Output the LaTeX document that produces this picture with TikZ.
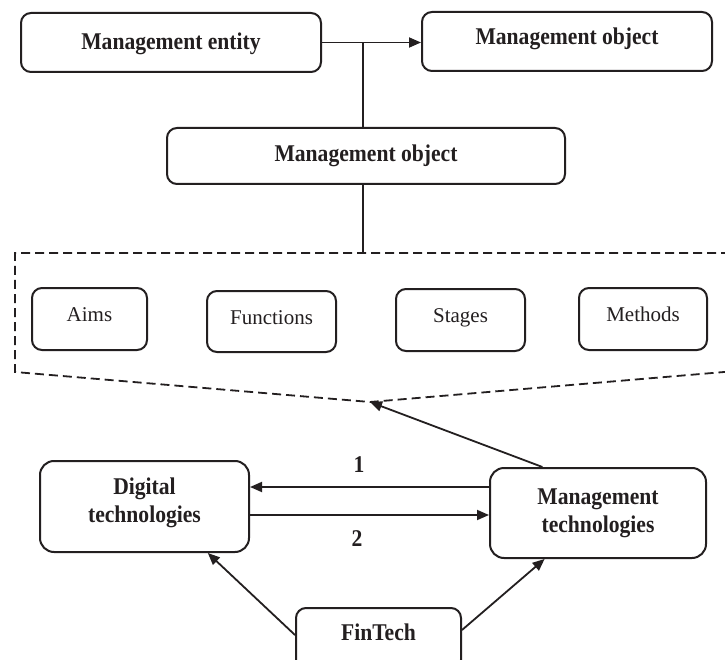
\documentclass[tikz,border=0pt]{standalone}
\usepackage{fontspec}
\setmainfont{Liberation Serif}
\newfontfamily\condserif[FakeStretch=0.9]{Liberation Serif}
\usetikzlibrary{arrows.meta,calc}
\definecolor{ink}{HTML}{231F20}
\tikzset{
  box/.style={draw=ink, line width=2pt, rounded corners=10pt, inner sep=0pt, align=center, text=ink},
  techbox/.style={box, rounded corners=14pt},
  bfont/.style={font=\condserif\bfseries\fontsize{24}{28}\selectfont},
  rfont/.style={font=\fontsize{21}{26}\selectfont},
  inner/.style={box, rfont, text height=15pt, text depth=10pt},
  conn/.style={draw=ink, line width=1.8pt},
  arr/.style={conn, -{Triangle[length=12pt,width=10pt]}},
  dashline/.style={draw=ink, line width=1.8pt, dash pattern=on 9pt off 5pt},
  numlbl/.style={text=ink, bfont, inner sep=0pt}
}
\begin{document}
\begin{tikzpicture}[x=1pt,y=-1pt]
\useasboundingbox (0,0) rectangle (725,660);
\clip (0,0) rectangle (725,660);
\fill[white] (0,0) rectangle (725,660);

% top row
\node[box,bfont,minimum width=300pt,minimum height=59pt,text height=18pt,text depth=3pt] (me) at (171,42.5) {Management entity};
\node[box,bfont,minimum width=290pt,minimum height=59pt,text height=18pt,text depth=11pt] (mo1) at (567,41.5) {Management object};
\node[box,bfont,minimum width=398pt,minimum height=56pt,text height=18pt,text depth=6pt] (mo2) at (366,156) {Management object};

% dashed region
\coordinate (dTL) at (15,253);
\coordinate (dTR) at (730,253);
\coordinate (dBL) at (15,372);
\coordinate (apex) at (370,402);
\coordinate (dBR) at (730,371.5);
\draw[dashline] (dTR) -- (dTL) -- (dBL) -- (apex) -- (dBR);

\node[inner,minimum width=115pt,minimum height=62pt] (aims) at (89.5,319) {Aims};
\node[inner,minimum width=129pt,minimum height=61pt] (func) at (271.5,321.5) {Functions};
\node[inner,minimum width=129pt,minimum height=62pt] (stag) at (460.5,320) {Stages};
\node[inner,minimum width=128pt,minimum height=62pt] (meth) at (643,319) {Methods};

% bottom
\node[techbox,minimum width=209pt,minimum height=91pt,
  label={[text=ink,bfont,align=center,yshift=3.5pt]center:Digital\\technologies}] (dt) at (144.5,506.5) {};
\node[techbox,bfont,minimum width=216pt,minimum height=90pt] (mt) at (598,513) {Management\\technologies};
\node[box,bfont,minimum width=165pt,minimum height=62pt,text height=18pt,text depth=16pt] (ft) at (378.5,639) {FinTech};

% connectors top
\draw[arr] (me.east) -- (me.east -| mo1.west);
\coordinate (J) at (362.7,42.5);
\draw[conn] (J) -- (J |- mo2.north);
\draw[conn] (J |- mo2.south) -- (J |- dTL);

% connectors bottom
\draw[arr] ($(mt.north west)!0.245!(mt.north east)$) -- (apex);
\draw[arr] ([yshift=26pt]mt.west) -- ([yshift=26pt]mt.west -| dt.east);
\draw[arr] ([yshift=-8.5pt]dt.east) -- ([yshift=-8.5pt]dt.east -| mt.west);
\node[numlbl] (n1) at (359,465) {1};
\node[numlbl] (n2) at (357,539) {2};
\draw[arr] ([yshift=4pt]ft.west) -- ($(dt.south west)!0.8!(dt.south east)$);
\draw[arr] ([yshift=9pt]ft.east) -- ($(mt.south west)!0.255!(mt.south east)$);
\end{tikzpicture}
\end{document}
